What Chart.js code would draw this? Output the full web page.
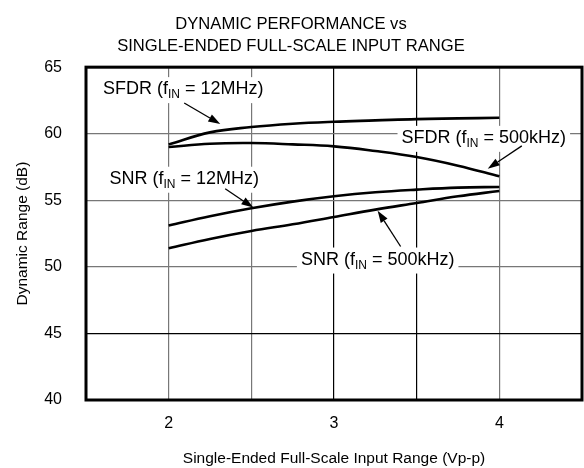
<!DOCTYPE html>
<html>
<head>
<meta charset="utf-8">
<script src="https://cdn.jsdelivr.net/npm/chart.js@4.4.1/dist/chart.umd.min.js"></script>
<style>
  html, body { margin: 0; padding: 0; background: #fff; }
  canvas { display: block; }
</style>
</head>
<body>
<canvas id="perfChart" width="584" height="468"></canvas>
<script>
// 入力レンジ (Vp-p)
const inputRange = [2, 2.25, 2.5, 2.75, 3, 3.25, 3.5, 3.75, 4];

// 各系列 (dB)
const sfdr12MHz  = [59.2, 60.1, 60.5, 60.75, 60.9, 61.0, 61.1, 61.15, 61.2];
const sfdr500kHz = [59.0, 59.25, 59.3, 59.2, 59.05, 58.7, 58.25, 57.6, 56.8];
const snr12MHz   = [53.1, 53.8, 54.4, 54.9, 55.3, 55.6, 55.8, 55.95, 56.0];
const snr500kHz  = [51.4, 52.1, 52.7, 53.2, 53.75, 54.3, 54.8, 55.3, 55.7];

// 軸
const xTickLabels = ['2', '3', '4'];
const yTickLabels = ['40', '45', '50', '55', '60', '65'];

const FONT = '"Liberation Sans", Arial, Helvetica, sans-serif';

function toPoints(values) {
    return inputRange.map((x, i) => ({ x: x, y: values[i] }));
}

function curve(values) {
    return {
        data: toPoints(values),
        borderColor: '#000',
        borderWidth: 2.6,
        pointRadius: 0,
        tension: 0.4,
        fill: false
    };
}

// ラベルと矢印（データ座標）
const callouts = [
    { name: 'SFDR', freq: '12MHz',  at: [2.088, 63.35], from: [2.094, 62.31], to: [2.312, 60.73] },
    { name: 'SFDR', freq: '500kHz', at: [3.906, 59.69], from: [4.136, 59.09], to: [3.930, 57.37] },
    { name: 'SNR',  freq: '12MHz',  at: [2.094, 56.62], from: [2.342, 55.87], to: [2.512, 54.45] },
    { name: 'SNR',  freq: '500kHz', at: [3.264, 50.55], from: [3.403, 51.53], to: [3.264, 54.22] }
];

const calloutPlugin = {
    id: 'callouts',
    beforeDatasetsDraw(chart) {
        const ctx = chart.ctx;
        const xs = chart.scales.x, ys = chart.scales.y;
        ctx.save();
        callouts.forEach(c => {
            const cx = xs.getPixelForValue(c.at[0]);
            const cy = ys.getPixelForValue(c.at[1]);
            const big = '18px ' + FONT, small = '12px ' + FONT;
            const p1 = c.name + ' (f', p2 = 'IN', p3 = ' = ' + c.freq + ')';
            ctx.font = big;
            const w1 = ctx.measureText(p1).width, w3 = ctx.measureText(p3).width;
            ctx.font = small;
            const w2 = ctx.measureText(p2).width;
            const total = w1 + w2 + w3;
            let x = cx - total / 2;
            ctx.fillStyle = '#fff';
            ctx.fillRect(x - 4, cy - 12, total + 8, 26);
            ctx.fillStyle = '#000';
            ctx.textBaseline = 'middle';
            ctx.textAlign = 'left';
            ctx.font = big;
            ctx.fillText(p1, x, cy);
            ctx.font = small;
            ctx.fillText(p2, x + w1, cy + 6);
            ctx.font = big;
            ctx.fillText(p3, x + w1 + w2, cy);

            // 矢印
            const x0 = xs.getPixelForValue(c.from[0]), y0 = ys.getPixelForValue(c.from[1]);
            const x1 = xs.getPixelForValue(c.to[0]),   y1 = ys.getPixelForValue(c.to[1]);
            const ang = Math.atan2(y1 - y0, x1 - x0);
            const head = 12, half = 4;
            ctx.strokeStyle = '#000';
            ctx.lineWidth = 1.3;
            ctx.beginPath();
            ctx.moveTo(x0, y0);
            ctx.lineTo(x1 - Math.cos(ang) * head, y1 - Math.sin(ang) * head);
            ctx.stroke();
            ctx.beginPath();
            ctx.moveTo(x1, y1);
            ctx.lineTo(x1 - Math.cos(ang) * head - Math.sin(ang) * half, y1 - Math.sin(ang) * head + Math.cos(ang) * half);
            ctx.lineTo(x1 - Math.cos(ang) * head + Math.sin(ang) * half, y1 - Math.sin(ang) * head - Math.cos(ang) * half);
            ctx.closePath();
            ctx.fill();
        });
        ctx.restore();
    },
    afterDatasetsDraw(chart) {
        // 外枠
        const a = chart.chartArea, ctx = chart.ctx;
        ctx.save();
        ctx.strokeStyle = '#000';
        ctx.lineWidth = 3;
        ctx.strokeRect(a.left, a.top, a.right - a.left, a.bottom - a.top);
        ctx.restore();
    }
};

const ctx = document.getElementById('perfChart').getContext('2d');

new Chart(ctx, {
    type: 'line',
    data: {
        datasets: [curve(sfdr12MHz), curve(sfdr500kHz), curve(snr12MHz), curve(snr500kHz)]
    },
    options: {
        responsive: false,
        animation: false,
        layout: { padding: { left: 0, right: 2, top: 0, bottom: 0 } },
        plugins: {
            legend: { display: false },
            tooltip: { enabled: false },
            title: {
                display: true,
                text: ['DYNAMIC PERFORMANCE vs', 'SINGLE-ENDED FULL-SCALE INPUT RANGE'],
                color: '#000',
                font: { family: FONT, size: 16.6, weight: 'normal', lineHeight: 1.33 },
                padding: { top: 13, bottom: 10 }
            }
        },
        scales: {
            x: {
                type: 'linear',
                min: 1.5,
                max: 4.5,
                afterFit(scale) {
                    scale.height = 68;
                    scale.paddingLeft = 0;
                    scale.paddingRight = 0;
                },
                grid: {
                    drawTicks: false,
                    lineWidth: 1.2,
                    color: c => (c.tick && (c.tick.value === 3 || c.tick.value === 3.5)) ? '#000' : '#777'
                },
                border: { display: false },
                ticks: {
                    stepSize: 0.5,
                    padding: 14,
                    color: '#000',
                    font: { family: FONT, size: 16 },
                    maxRotation: 0,
                    callback: v => xTickLabels.includes(String(v)) ? String(v) : ''
                },
                title: {
                    display: true,
                    text: 'Single-Ended Full-Scale Input Range (Vp-p)',
                    color: '#000',
                    font: { family: FONT, size: 15.5 },
                    padding: { top: 8, bottom: 0 }
                }
            },
            y: {
                min: 40,
                max: 65,
                afterFit(scale) { scale.width = 86; },
                grid: {
                    drawTicks: false,
                    lineWidth: 1.2,
                    color: c => (c.tick && c.tick.value === 45) ? '#000' : '#777'
                },
                border: { display: false },
                ticks: {
                    stepSize: 5,
                    padding: 24,
                    color: '#000',
                    font: { family: FONT, size: 16 },
                    callback: v => yTickLabels.includes(String(v)) ? String(v) : ''
                },
                title: {
                    display: true,
                    text: 'Dynamic Range (dB)',
                    color: '#000',
                    font: { family: FONT, size: 15.5 },
                    padding: { top: 13, bottom: 0 }
                }
            }
        }
    },
    plugins: [calloutPlugin]
});
</script>
</body>
</html>
